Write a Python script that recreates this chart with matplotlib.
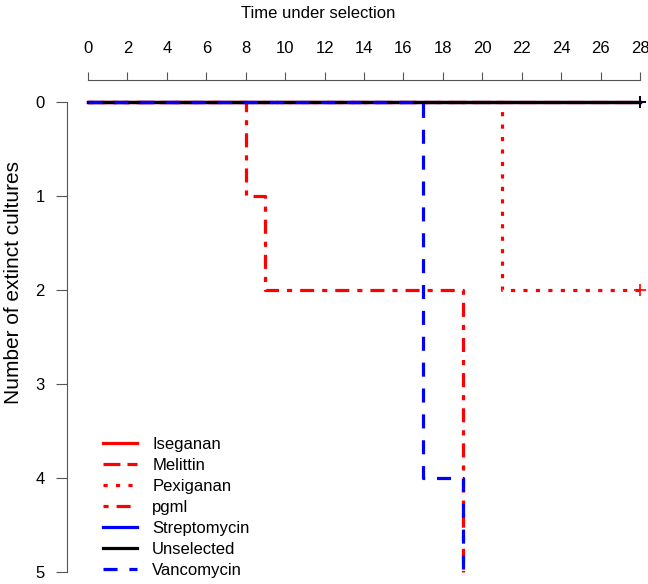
import matplotlib
matplotlib.use('Agg')
from matplotlib import pyplot as plt

plt.rcParams['font.family'] = ['Liberation Sans', 'DejaVu Sans']

# step data: times at which the number of extinct cultures changes
names = ['Iseganan', 'Melittin', 'Pexiganan', 'pgml', 'Streptomycin', 'Unselected', 'Vancomycin']
times = [[0, 28], [0, 28], [0, 21, 28], [0, 8, 9, 19], [0, 28], [0, 28], [0, 17, 19]]
counts = [[0, 0], [0, 0], [0, 2, 2], [0, 1, 2, 5], [0, 0], [0, 0], [0, 4, 5]]
censor_t = [28, 28, 28, None, 28, 28, None]
censor_n = [0, 0, 2, None, 0, 0, None]
colors = ['red', 'red', 'red', 'red', 'blue', 'black', 'blue']
dashes = [None, (5.3, 2.2), (1.3, 2.6), (1.6, 2.5, 4.4, 2.5), None, None, (4.4, 3.7)]
xticks = list(range(0, 29, 2))
yticks = [0, 1, 2, 3, 4, 5]

W, H = 648, 584
fig = plt.figure(figsize=(6.48, 5.84), dpi=100)
ax = fig.add_axes([88/W, 12/H, 552/W, 470/H])

for i in range(len(names)):
    ls = '-' if dashes[i] is None else (0, dashes[i])
    ax.plot(times[i], counts[i], drawstyle='steps-post', color=colors[i],
            lw=2.3, linestyle=ls, clip_on=False, label=names[i])
    if censor_t[i] is not None:
        ax.plot(censor_t[i], censor_n[i], marker='+', ms=9, mew=1.2,
                color=colors[i], clip_on=False)

ax.set_xlim(0, 28)
ax.set_ylim(5, 0)
ax.xaxis.tick_top()
ax.set_xticks(xticks)
ax.set_yticks(yticks)
for lab in ax.get_yticklabels():
    lab.set_rotation(90)
    lab.set_va('center')
ax.tick_params(axis='x', length=6, pad=11, labelsize=12, color='#555555')
ax.tick_params(axis='y', length=8, pad=8, labelsize=12, color='#555555')

for s in ['bottom', 'right']:
    ax.spines[s].set_visible(False)
ax.spines['top'].set_position(('outward', 16))
ax.spines['left'].set_position(('outward', 15))
ax.spines['top'].set_bounds(0, 28)
ax.spines['left'].set_bounds(0, 5)
ax.spines['top'].set_color('#555555')
ax.spines['left'].set_color('#555555')

fig.text(318/W, 1 - 13/H, 'Time under selection', fontsize=12,
         ha='center', va='center')
fig.text(14/W, 1 - 283/H, 'Number of extinct cultures', fontsize=15,
         rotation=90, ha='center', va='center')

leg = ax.legend(loc='lower left', bbox_to_anchor=(15/552, -6/470), frameon=False,
                fontsize=12, handlelength=2.05, handletextpad=0.9,
                labelspacing=0.36, borderpad=0, borderaxespad=0)

fig.savefig('out.png', dpi=100)
